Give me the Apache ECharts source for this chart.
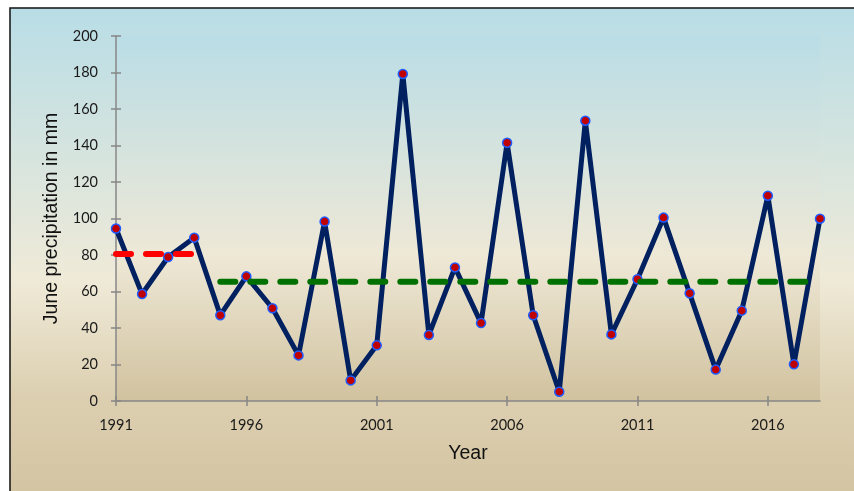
<!DOCTYPE html>
<html>
<head>
<meta charset="utf-8">
<style>html,body{margin:0;padding:0;background:#fff;}#c{width:854px;height:491px;}</style>
<script src="https://cdn.jsdelivr.net/npm/echarts@6/dist/echarts.min.js"></script>
</head>
<body>
<div id="c"></div>
<script>
var years = [];
for (var y = 1991; y <= 2018; y++) years.push(String(y));
var precipitation = [94.5, 58.6, 78.9, 89.5, 47, 68.3, 50.8, 25, 98.3, 11.3, 30.5, 179.2, 36.2, 73.2, 42.7, 141.5, 47, 5.1, 153.6, 36.5, 66.7, 100.5, 59, 17.2, 49.5, 112.5, 20.1, 99.9];
var meanEarly = 80.5;   // 1991-1994
var meanLate = 65.4;    // 1995-2018
var earlyEnd = 1994;
var lateStart = 1995;

var redLine = years.map(function (yr) { return (+yr <= earlyEnd) ? meanEarly : '-'; });
var greenLine = years.map(function (yr) { return (+yr >= lateStart) ? meanLate : '-'; });

var chart = echarts.init(document.getElementById('c'), null, {renderer: 'canvas'});
var labelFont = 'Lato, "Noto Sans", sans-serif';
var titleFont = '"Liberation Sans", Arial, sans-serif';
var axisColor = '#878787';

var option = {
  backgroundColor: '#ffffff',
  animation: false,
  graphic: [{
    type: 'rect',
    z: -10,
    shape: {x: 10, y: 8, width: 900, height: 520},
    style: {
      fill: new echarts.graphic.LinearGradient(0, 0, 0, 1, [
        {offset: 0, color: '#b8dde6'},
        {offset: 0.52, color: '#efead8'},
        {offset: 0.75, color: '#dccfb0'},
        {offset: 1, color: '#d0c09d'}
      ]),
      stroke: '#111111',
      lineWidth: 1.5
    }
  }],
  grid: {
    left: 116, right: 34, top: 36, bottom: 90,
    show: true, borderWidth: 0,
    backgroundColor: new echarts.graphic.LinearGradient(0, 0, 0, 1, [
      {offset: 0, color: '#badde6'},
      {offset: 0.6, color: '#eee8d6'},
      {offset: 1, color: '#d1c29f'}
    ])
  },
  xAxis: [{
    type: 'category',
    data: years,
    boundaryGap: false,
    name: 'Year',
    nameLocation: 'middle',
    nameGap: 43,
    nameTextStyle: {fontFamily: titleFont, fontSize: 19.5, color: '#111'},
    axisLine: {lineStyle: {color: axisColor, width: 1.5}},
    axisTick: {interval: 4, length: 5, lineStyle: {color: axisColor, width: 1.5}},
    axisLabel: {interval: 4, margin: 17, fontFamily: labelFont, fontSize: 14.5, color: '#1a1a1a'},
    splitLine: {show: false}
  }, {
    type: 'category',
    data: years,
    boundaryGap: false,
    position: 'bottom',
    axisLine: {show: false},
    axisTick: {interval: 4, inside: true, length: 5, lineStyle: {color: axisColor, width: 1.5}},
    axisLabel: {show: false},
    splitLine: {show: false}
  }],
  yAxis: [{
    type: 'value',
    min: 0, max: 200, interval: 20,
    name: 'June precipitation in mm',
    nameLocation: 'middle',
    nameGap: 49,
    nameTextStyle: {fontFamily: titleFont, fontSize: 19.5, color: '#111'},
    axisLine: {show: true, lineStyle: {color: axisColor, width: 1.5}},
    axisTick: {show: true, length: 5, lineStyle: {color: axisColor, width: 1.5}},
    axisLabel: {margin: 18, fontFamily: labelFont, fontSize: 14.5, color: '#1a1a1a'},
    splitLine: {show: false}
  }, {
    type: 'value',
    min: 0, max: 200, interval: 20,
    position: 'left',
    axisLine: {show: false},
    axisTick: {show: true, inside: true, length: 5, lineStyle: {color: axisColor, width: 1.5}},
    axisLabel: {show: false},
    splitLine: {show: false}
  }],
  series: [{
    type: 'line',
    data: precipitation,
    z: 2,
    lineStyle: {color: '#002060', width: 5},
    symbol: 'circle',
    symbolSize: 9,
    itemStyle: {color: '#c00000', borderColor: '#1f5cff', borderWidth: 1.5},
    silent: true
  }, {
    type: 'line',
    data: redLine,
    z: 3,
    symbol: 'none',
    lineStyle: {color: '#ff0000', width: 6, type: [15, 15], cap: 'round'},
    silent: true
  }, {
    type: 'line',
    data: greenLine,
    z: 3,
    symbol: 'none',
    lineStyle: {color: '#007000', width: 6, type: [15, 15], cap: 'round'},
    silent: true
  }]
};
chart.setOption(option);
</script>
</body>
</html>
